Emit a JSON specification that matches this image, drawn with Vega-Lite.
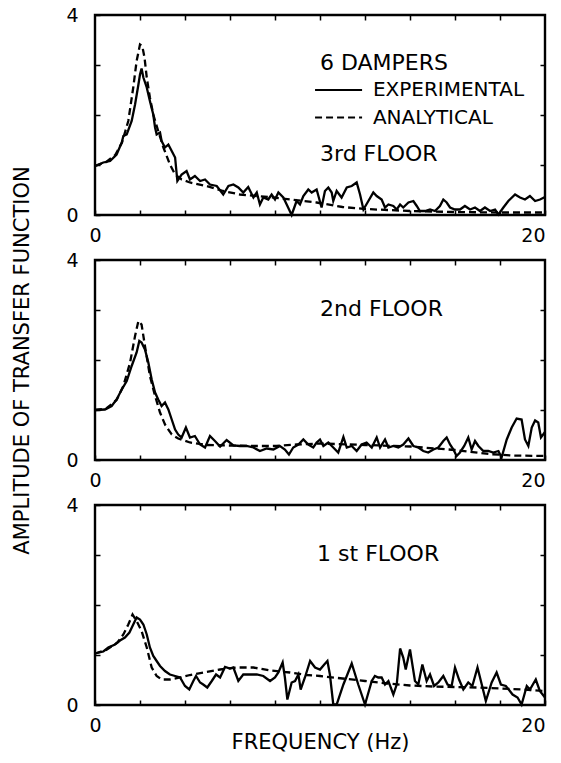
{
  "$schema": "https://vega.github.io/schema/vega-lite/v6.json",
  "padding": {"left": 9, "top": 4, "right": 5, "bottom": 5},
  "bounds": "flush",
  "spacing": 45,
  "config": {
    "view": {"stroke": "black", "strokeWidth": 2.4},
    "font": "DejaVu Sans",
    "axis": {
      "domain": false, "grid": false, "tickColor": "black", "tickWidth": 1.5, "tickSize": -5,
      "labelColor": "black", "labelFont": "DejaVu Sans", "labelFontSize": 19, "labelOverlap": false, "labelFlush": false,
      "titleFont": "DejaVu Sans", "titleFontSize": 21, "titleFontWeight": "normal", "titleColor": "black"
    }
  },
  "datasets": {
    "exp1": [
      {"f":0,"a":0.98},{"f":0.37,"a":1.05},{"f":0.67,"a":1.08},{"f":0.96,"a":1.21},{"f":1.19,"a":1.45},{"f":1.26,"a":1.58},{"f":1.41,"a":1.61},{"f":1.63,"a":1.88},{"f":1.78,"a":2.21},{"f":1.93,"a":2.61},{"f":2.0,"a":2.81},{"f":2.07,"a":2.93},{"f":2.15,"a":2.75},{"f":2.3,"a":2.55},{"f":2.44,"a":2.28},{"f":2.59,"a":2.01},{"f":2.67,"a":1.75},{"f":2.74,"a":1.61},{"f":2.89,"a":1.65},{"f":2.96,"a":1.48},{"f":3.11,"a":1.35},{"f":3.26,"a":1.41},{"f":3.41,"a":1.28},{"f":3.56,"a":1.15},{"f":3.66,"a":0.68},{"f":3.85,"a":0.81},{"f":4.07,"a":0.88},{"f":4.22,"a":0.71},{"f":4.44,"a":0.78},{"f":4.67,"a":0.68},{"f":4.89,"a":0.71},{"f":5.11,"a":0.61},{"f":5.41,"a":0.58},{"f":5.7,"a":0.41},{"f":5.93,"a":0.58},{"f":6.15,"a":0.61},{"f":6.37,"a":0.55},{"f":6.59,"a":0.45},{"f":6.81,"a":0.56},{"f":7.04,"a":0.35},{"f":7.19,"a":0.45},{"f":7.33,"a":0.21},{"f":7.48,"a":0.35},{"f":7.7,"a":0.31},{"f":7.85,"a":0.41},{"f":8.0,"a":0.31},{"f":8.15,"a":0.45},{"f":8.37,"a":0.35},{"f":8.52,"a":0.21},{"f":8.74,"a":0.0},{"f":8.96,"a":0.28},{"f":9.11,"a":0.21},{"f":9.26,"a":0.38},{"f":9.48,"a":0.51},{"f":9.63,"a":0.45},{"f":9.85,"a":0.51},{"f":9.93,"a":0.38},{"f":10.07,"a":0.15},{"f":10.22,"a":0.48},{"f":10.37,"a":0.55},{"f":10.52,"a":0.45},{"f":10.59,"a":0.28},{"f":10.74,"a":0.48},{"f":10.96,"a":0.35},{"f":11.19,"a":0.55},{"f":11.41,"a":0.58},{"f":11.63,"a":0.65},{"f":11.78,"a":0.41},{"f":11.93,"a":0.11},{"f":12.15,"a":0.28},{"f":12.37,"a":0.45},{"f":12.52,"a":0.38},{"f":12.74,"a":0.31},{"f":12.89,"a":0.15},{"f":13.04,"a":0.21},{"f":13.26,"a":0.18},{"f":13.41,"a":0.11},{"f":13.56,"a":0.21},{"f":13.7,"a":0.15},{"f":13.93,"a":0.25},{"f":14.15,"a":0.28},{"f":14.3,"a":0.18},{"f":14.44,"a":0.08},{"f":14.67,"a":0.08},{"f":14.89,"a":0.11},{"f":15.11,"a":0.08},{"f":15.33,"a":0.18},{"f":15.48,"a":0.31},{"f":15.63,"a":0.25},{"f":15.78,"a":0.15},{"f":16.0,"a":0.11},{"f":16.22,"a":0.11},{"f":16.44,"a":0.18},{"f":16.67,"a":0.11},{"f":16.89,"a":0.15},{"f":17.11,"a":0.08},{"f":17.33,"a":0.15},{"f":17.56,"a":0.08},{"f":17.78,"a":0.11},{"f":17.93,"a":0.01},{"f":18.15,"a":0.15},{"f":18.37,"a":0.28},{"f":18.67,"a":0.41},{"f":18.89,"a":0.35},{"f":19.11,"a":0.31},{"f":19.33,"a":0.38},{"f":19.56,"a":0.28},{"f":19.78,"a":0.31},{"f":20.0,"a":0.36}
    ],
    "ana1": [
      {"f":0,"a":0.98},{"f":0.5,"a":1.06},{"f":0.9,"a":1.2},{"f":1.2,"a":1.45},{"f":1.48,"a":1.88},{"f":1.7,"a":2.55},{"f":1.85,"a":3.08},{"f":2.0,"a":3.41},{"f":2.1,"a":3.38},{"f":2.2,"a":3.15},{"f":2.3,"a":2.75},{"f":2.44,"a":2.35},{"f":2.59,"a":2.01},{"f":2.81,"a":1.68},{"f":3.04,"a":1.35},{"f":3.33,"a":1.01},{"f":3.56,"a":0.81},{"f":3.85,"a":0.71},{"f":4.22,"a":0.65},{"f":4.96,"a":0.58},{"f":5.7,"a":0.48},{"f":6.44,"a":0.41},{"f":7.19,"a":0.38},{"f":7.93,"a":0.35},{"f":8.67,"a":0.31},{"f":9.85,"a":0.25},{"f":11,"a":0.16},{"f":12,"a":0.12},{"f":13,"a":0.1},{"f":14,"a":0.08},{"f":16,"a":0.06},{"f":18,"a":0.05},{"f":20,"a":0.05}
    ],
    "exp2": [
      {"f":0,"a":1.0},{"f":0.44,"a":1.01},{"f":0.74,"a":1.08},{"f":0.96,"a":1.21},{"f":1.19,"a":1.41},{"f":1.41,"a":1.58},{"f":1.63,"a":1.88},{"f":1.85,"a":2.15},{"f":1.97,"a":2.38},{"f":2.07,"a":2.35},{"f":2.22,"a":2.21},{"f":2.37,"a":1.95},{"f":2.52,"a":1.61},{"f":2.67,"a":1.35},{"f":2.81,"a":1.21},{"f":2.96,"a":1.08},{"f":3.11,"a":1.15},{"f":3.26,"a":1.01},{"f":3.41,"a":0.81},{"f":3.56,"a":0.61},{"f":3.7,"a":0.51},{"f":3.85,"a":0.45},{"f":4.04,"a":0.65},{"f":4.22,"a":0.45},{"f":4.44,"a":0.48},{"f":4.67,"a":0.31},{"f":4.89,"a":0.25},{"f":5.11,"a":0.48},{"f":5.33,"a":0.38},{"f":5.56,"a":0.27},{"f":5.85,"a":0.4},{"f":6.15,"a":0.29},{"f":6.44,"a":0.28},{"f":6.74,"a":0.28},{"f":7.04,"a":0.25},{"f":7.33,"a":0.18},{"f":7.63,"a":0.23},{"f":7.93,"a":0.21},{"f":8.22,"a":0.28},{"f":8.44,"a":0.21},{"f":8.62,"a":0.11},{"f":8.81,"a":0.25},{"f":9.04,"a":0.31},{"f":9.26,"a":0.41},{"f":9.48,"a":0.31},{"f":9.7,"a":0.25},{"f":9.85,"a":0.35},{"f":10.0,"a":0.41},{"f":10.15,"a":0.28},{"f":10.37,"a":0.35},{"f":10.59,"a":0.25},{"f":10.81,"a":0.15},{"f":11.04,"a":0.46},{"f":11.19,"a":0.25},{"f":11.41,"a":0.28},{"f":11.63,"a":0.18},{"f":11.85,"a":0.31},{"f":12.07,"a":0.35},{"f":12.3,"a":0.25},{"f":12.52,"a":0.45},{"f":12.67,"a":0.25},{"f":12.89,"a":0.41},{"f":13.04,"a":0.25},{"f":13.26,"a":0.28},{"f":13.48,"a":0.25},{"f":13.7,"a":0.31},{"f":13.93,"a":0.43},{"f":14.15,"a":0.28},{"f":14.37,"a":0.25},{"f":14.59,"a":0.18},{"f":14.81,"a":0.15},{"f":15.04,"a":0.21},{"f":15.26,"a":0.25},{"f":15.48,"a":0.38},{"f":15.63,"a":0.45},{"f":15.78,"a":0.31},{"f":15.93,"a":0.21},{"f":16.07,"a":0.08},{"f":16.22,"a":0.15},{"f":16.41,"a":0.28},{"f":16.59,"a":0.45},{"f":16.74,"a":0.21},{"f":16.89,"a":0.38},{"f":17.04,"a":0.28},{"f":17.26,"a":0.18},{"f":17.48,"a":0.18},{"f":17.7,"a":0.15},{"f":17.93,"a":0.18},{"f":18.07,"a":0.05},{"f":18.3,"a":0.41},{"f":18.52,"a":0.65},{"f":18.74,"a":0.83},{"f":18.96,"a":0.81},{"f":19.11,"a":0.41},{"f":19.26,"a":0.28},{"f":19.41,"a":0.65},{"f":19.56,"a":0.79},{"f":19.7,"a":0.75},{"f":19.82,"a":0.45},{"f":20.0,"a":0.56}
    ],
    "ana2": [
      {"f":0,"a":1.0},{"f":0.5,"a":1.03},{"f":0.96,"a":1.2},{"f":1.26,"a":1.48},{"f":1.56,"a":1.95},{"f":1.78,"a":2.48},{"f":1.93,"a":2.78},{"f":2.07,"a":2.71},{"f":2.22,"a":2.28},{"f":2.44,"a":1.68},{"f":2.67,"a":1.28},{"f":2.89,"a":0.95},{"f":3.11,"a":0.71},{"f":3.41,"a":0.51},{"f":3.7,"a":0.43},{"f":4.22,"a":0.35},{"f":4.96,"a":0.3},{"f":6.0,"a":0.29},{"f":7.19,"a":0.28},{"f":8.07,"a":0.28},{"f":8.96,"a":0.31},{"f":10.0,"a":0.33},{"f":12,"a":0.3},{"f":14,"a":0.27},{"f":16,"a":0.2},{"f":17.5,"a":0.12},{"f":18.5,"a":0.09},{"f":20,"a":0.08}
    ],
    "exp3": [
      {"f":0,"a":1.03},{"f":0.37,"a":1.07},{"f":0.59,"a":1.15},{"f":0.89,"a":1.21},{"f":1.11,"a":1.29},{"f":1.33,"a":1.35},{"f":1.53,"a":1.45},{"f":1.7,"a":1.61},{"f":1.85,"a":1.75},{"f":2.0,"a":1.71},{"f":2.15,"a":1.61},{"f":2.3,"a":1.41},{"f":2.44,"a":1.15},{"f":2.59,"a":0.98},{"f":2.74,"a":0.88},{"f":2.89,"a":0.78},{"f":3.11,"a":0.68},{"f":3.33,"a":0.61},{"f":3.56,"a":0.58},{"f":3.78,"a":0.55},{"f":4.0,"a":0.38},{"f":4.19,"a":0.31},{"f":4.37,"a":0.48},{"f":4.49,"a":0.58},{"f":4.67,"a":0.45},{"f":4.81,"a":0.41},{"f":4.99,"a":0.35},{"f":5.19,"a":0.48},{"f":5.38,"a":0.61},{"f":5.56,"a":0.55},{"f":5.78,"a":0.76},{"f":6.0,"a":0.73},{"f":6.15,"a":0.75},{"f":6.37,"a":0.48},{"f":6.59,"a":0.61},{"f":6.89,"a":0.61},{"f":7.19,"a":0.61},{"f":7.48,"a":0.58},{"f":7.78,"a":0.48},{"f":8.0,"a":0.55},{"f":8.15,"a":0.65},{"f":8.34,"a":0.85},{"f":8.44,"a":0.55},{"f":8.55,"a":0.11},{"f":8.74,"a":0.45},{"f":8.89,"a":0.48},{"f":9.04,"a":0.61},{"f":9.14,"a":0.31},{"f":9.33,"a":0.55},{"f":9.56,"a":0.88},{"f":9.78,"a":0.75},{"f":10.0,"a":0.71},{"f":10.19,"a":0.81},{"f":10.33,"a":0.88},{"f":10.44,"a":0.61},{"f":10.59,"a":0.01},{"f":10.74,"a":0.01},{"f":11.04,"a":0.41},{"f":11.41,"a":0.83},{"f":11.7,"a":0.41},{"f":12.0,"a":0.01},{"f":12.3,"a":0.48},{"f":12.44,"a":0.58},{"f":12.59,"a":0.55},{"f":12.74,"a":0.55},{"f":12.89,"a":0.41},{"f":13.04,"a":0.48},{"f":13.26,"a":0.21},{"f":13.41,"a":0.41},{"f":13.56,"a":1.13},{"f":13.7,"a":0.95},{"f":13.81,"a":0.71},{"f":14.0,"a":1.11},{"f":14.22,"a":0.48},{"f":14.37,"a":0.41},{"f":14.55,"a":0.81},{"f":14.74,"a":0.48},{"f":14.89,"a":0.61},{"f":15.07,"a":0.38},{"f":15.26,"a":0.45},{"f":15.48,"a":0.58},{"f":15.67,"a":0.41},{"f":15.85,"a":0.38},{"f":16.0,"a":0.75},{"f":16.18,"a":0.51},{"f":16.37,"a":0.31},{"f":16.59,"a":0.45},{"f":16.77,"a":0.38},{"f":17.0,"a":0.75},{"f":17.19,"a":0.41},{"f":17.37,"a":0.08},{"f":17.63,"a":0.45},{"f":17.85,"a":0.65},{"f":18.04,"a":0.41},{"f":18.26,"a":0.38},{"f":18.56,"a":0.21},{"f":18.78,"a":0.15},{"f":18.96,"a":0.01},{"f":19.19,"a":0.38},{"f":19.33,"a":0.31},{"f":19.59,"a":0.51},{"f":19.77,"a":0.28},{"f":20.0,"a":0.15}
    ],
    "ana3": [
      {"f":0,"a":1.03},{"f":0.5,"a":1.1},{"f":1.0,"a":1.25},{"f":1.26,"a":1.41},{"f":1.48,"a":1.61},{"f":1.67,"a":1.81},{"f":1.85,"a":1.68},{"f":2.07,"a":1.48},{"f":2.3,"a":1.15},{"f":2.52,"a":0.75},{"f":2.74,"a":0.58},{"f":2.96,"a":0.51},{"f":3.33,"a":0.51},{"f":3.78,"a":0.55},{"f":4.22,"a":0.6},{"f":4.81,"a":0.65},{"f":5.56,"a":0.71},{"f":6.3,"a":0.75},{"f":7.04,"a":0.75},{"f":7.78,"a":0.69},{"f":8.67,"a":0.65},{"f":9.41,"a":0.6},{"f":10.0,"a":0.58},{"f":11,"a":0.53},{"f":12,"a":0.48},{"f":13,"a":0.43},{"f":14,"a":0.39},{"f":15,"a":0.37},{"f":16,"a":0.36},{"f":17,"a":0.35},{"f":18,"a":0.33},{"f":19,"a":0.31},{"f":20,"a":0.28}
    ]
  },
  "vconcat": [
    {
      "width": 450, "height": 200,
      "layer": [
        {"data": {"name": "exp1"}, "mark": {"type": "line", "color": "black", "strokeWidth": 2.3},
         "encoding": {
           "x": {"field": "f", "type": "quantitative", "scale": {"domain": [0, 20], "nice": false},
                 "axis": {"orient": "bottom", "values": [0,2,4,6,8,10,12,14,16,18,20], "labelExpr": "datum.value == 0 || datum.value == 20 ? datum.label : ''", "labelPadding": 16, "labelAlign": {"condition": {"test": "datum.value == 20", "value": "right"}, "value": "center"}, "title": null}},
           "y": {"field": "a", "type": "quantitative", "scale": {"domain": [0, 4], "nice": false},
                 "axis": {"orient": "left", "values": [0,1,2,3,4], "labelExpr": "datum.value == 0 || datum.value == 4 ? datum.label : ''", "labelPadding": 22, "title": null}}
         }},
        {"data": {"name": "ana1"}, "mark": {"type": "line", "color": "black", "strokeWidth": 2.3, "strokeDash": [7, 4]},
         "encoding": {
           "x": {"field": "f", "type": "quantitative", "scale": {"domain": [0, 20], "nice": false},
                 "axis": {"orient": "top", "values": [2,4,6,8,10,12,14,16,18], "labels": false, "title": null}},
           "y": {"field": "a", "type": "quantitative", "scale": {"domain": [0, 4], "nice": false},
                 "axis": {"orient": "right", "values": [1,2,3], "labels": false, "title": null}}
         }},
        {"data": {"values": [{}]}, "mark": {"type": "rule", "color": "black", "strokeWidth": 2},
         "encoding": {"x": {"datum": 9.78, "type": "quantitative", "scale": {"domain": [0, 20], "nice": false}, "axis": null}, "x2": {"datum": 11.87},
                      "y": {"datum": 2.5, "type": "quantitative", "scale": {"domain": [0, 4], "nice": false}, "axis": null}}},
        {"data": {"values": [{}]}, "mark": {"type": "rule", "color": "black", "strokeWidth": 2, "strokeDash": [7, 4]},
         "encoding": {"x": {"datum": 9.78, "type": "quantitative", "scale": {"domain": [0, 20], "nice": false}, "axis": null}, "x2": {"datum": 11.87},
                      "y": {"datum": 1.95, "type": "quantitative", "scale": {"domain": [0, 4], "nice": false}, "axis": null}}},
        {"data": {"values": [{}]}, "mark": {"type": "text", "align": "left", "baseline": "middle", "fontSize": 22, "font": "DejaVu Sans", "color": "black"},
         "encoding": {"x": {"datum": 10.0, "type": "quantitative", "scale": {"domain": [0, 20], "nice": false}, "axis": null},
                      "y": {"datum": 3.05, "type": "quantitative", "scale": {"domain": [0, 4], "nice": false}, "axis": null},
                      "text": {"value": "6 DAMPERS"}}},
        {"data": {"values": [{}]}, "mark": {"type": "text", "align": "left", "baseline": "middle", "fontSize": 20, "font": "DejaVu Sans", "color": "black"},
         "encoding": {"x": {"datum": 12.35, "type": "quantitative", "scale": {"domain": [0, 20], "nice": false}, "axis": null},
                      "y": {"datum": 2.5, "type": "quantitative", "scale": {"domain": [0, 4], "nice": false}, "axis": null},
                      "text": {"value": "EXPERIMENTAL"}}},
        {"data": {"values": [{}]}, "mark": {"type": "text", "align": "left", "baseline": "middle", "fontSize": 20, "font": "DejaVu Sans", "color": "black"},
         "encoding": {"x": {"datum": 12.35, "type": "quantitative", "scale": {"domain": [0, 20], "nice": false}, "axis": null},
                      "y": {"datum": 1.95, "type": "quantitative", "scale": {"domain": [0, 4], "nice": false}, "axis": null},
                      "text": {"value": "ANALYTICAL"}}},
        {"data": {"values": [{}]}, "mark": {"type": "text", "align": "left", "baseline": "middle", "fontSize": 22, "font": "DejaVu Sans", "color": "black"},
         "encoding": {"x": {"datum": 10.0, "type": "quantitative", "scale": {"domain": [0, 20], "nice": false}, "axis": null},
                      "y": {"datum": 1.22, "type": "quantitative", "scale": {"domain": [0, 4], "nice": false}, "axis": null},
                      "text": {"value": "3rd FLOOR"}}}
      ],
      "resolve": {"axis": {"x": "independent", "y": "independent"}}
    },
    {
      "width": 450, "height": 200,
      "layer": [
        {"data": {"name": "exp2"}, "mark": {"type": "line", "color": "black", "strokeWidth": 2.3},
         "encoding": {
           "x": {"field": "f", "type": "quantitative", "scale": {"domain": [0, 20], "nice": false},
                 "axis": {"orient": "bottom", "values": [0,2,4,6,8,10,12,14,16,18,20], "labelExpr": "datum.value == 0 || datum.value == 20 ? datum.label : ''", "labelPadding": 16, "labelAlign": {"condition": {"test": "datum.value == 20", "value": "right"}, "value": "center"}, "title": null}},
           "y": {"field": "a", "type": "quantitative", "scale": {"domain": [0, 4], "nice": false},
                 "axis": {"orient": "left", "values": [0,1,2,3,4], "labelExpr": "datum.value == 0 || datum.value == 4 ? datum.label : ''", "labelPadding": 22,
                          "title": "AMPLITUDE OF TRANSFER FUNCTION", "titleX": -67, "titleY": 100, "titleAngle": 270, "titleAlign": "center", "titleBaseline": "alphabetic"}}
         }},
        {"data": {"name": "ana2"}, "mark": {"type": "line", "color": "black", "strokeWidth": 2.3, "strokeDash": [7, 4]},
         "encoding": {
           "x": {"field": "f", "type": "quantitative", "scale": {"domain": [0, 20], "nice": false},
                 "axis": {"orient": "top", "values": [2,4,6,8,10,12,14,16,18], "labels": false, "title": null}},
           "y": {"field": "a", "type": "quantitative", "scale": {"domain": [0, 4], "nice": false},
                 "axis": {"orient": "right", "values": [1,2,3], "labels": false, "title": null}}
         }},
        {"data": {"values": [{}]}, "mark": {"type": "text", "align": "left", "baseline": "middle", "fontSize": 22, "font": "DejaVu Sans", "color": "black"},
         "encoding": {"x": {"datum": 10.0, "type": "quantitative", "scale": {"domain": [0, 20], "nice": false}, "axis": null},
                      "y": {"datum": 3.02, "type": "quantitative", "scale": {"domain": [0, 4], "nice": false}, "axis": null},
                      "text": {"value": "2nd FLOOR"}}}
      ],
      "resolve": {"axis": {"x": "independent", "y": "independent"}}
    },
    {
      "width": 450, "height": 200,
      "layer": [
        {"data": {"name": "exp3"}, "mark": {"type": "line", "color": "black", "strokeWidth": 2.3},
         "encoding": {
           "x": {"field": "f", "type": "quantitative", "scale": {"domain": [0, 20], "nice": false},
                 "axis": {"orient": "bottom", "values": [0,2,4,6,8,10,12,14,16,18,20], "labelExpr": "datum.value == 0 || datum.value == 20 ? datum.label : ''", "labelPadding": 16, "labelAlign": {"condition": {"test": "datum.value == 20", "value": "right"}, "value": "center"},
                          "title": "FREQUENCY (Hz)", "titleX": 225, "titleY": 43, "titleAlign": "center", "titleBaseline": "alphabetic"}},
           "y": {"field": "a", "type": "quantitative", "scale": {"domain": [0, 4], "nice": false},
                 "axis": {"orient": "left", "values": [0,1,2,3,4], "labelExpr": "datum.value == 0 || datum.value == 4 ? datum.label : ''", "labelPadding": 22, "title": null}}
         }},
        {"data": {"name": "ana3"}, "mark": {"type": "line", "color": "black", "strokeWidth": 2.3, "strokeDash": [7, 4]},
         "encoding": {
           "x": {"field": "f", "type": "quantitative", "scale": {"domain": [0, 20], "nice": false},
                 "axis": {"orient": "top", "values": [2,4,6,8,10,12,14,16,18], "labels": false, "title": null}},
           "y": {"field": "a", "type": "quantitative", "scale": {"domain": [0, 4], "nice": false},
                 "axis": {"orient": "right", "values": [1,2,3], "labels": false, "title": null}}
         }},
        {"data": {"values": [{}]}, "mark": {"type": "text", "align": "left", "baseline": "middle", "fontSize": 22, "font": "DejaVu Sans", "color": "black"},
         "encoding": {"x": {"datum": 9.87, "type": "quantitative", "scale": {"domain": [0, 20], "nice": false}, "axis": null},
                      "y": {"datum": 3.02, "type": "quantitative", "scale": {"domain": [0, 4], "nice": false}, "axis": null},
                      "text": {"value": "1 st FLOOR"}}}
      ],
      "resolve": {"axis": {"x": "independent", "y": "independent"}}
    }
  ]
}
